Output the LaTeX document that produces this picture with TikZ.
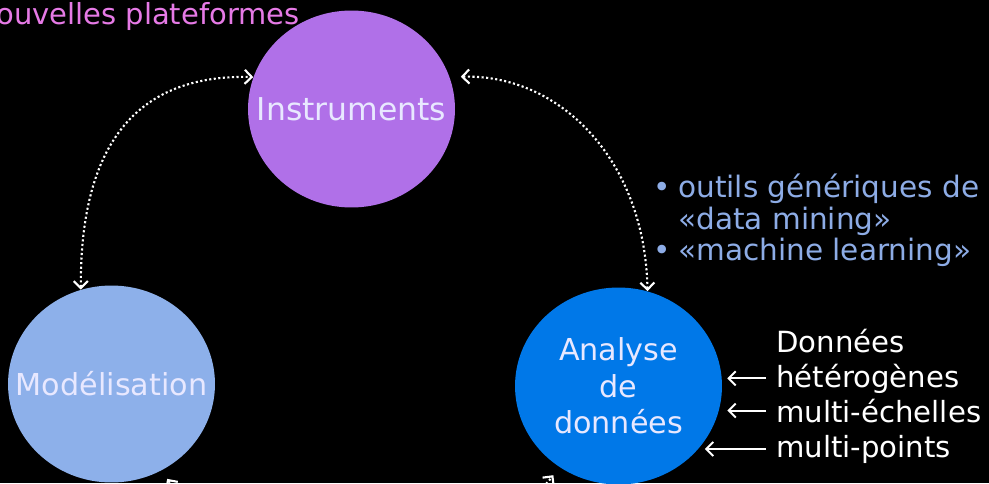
\documentclass[tikz,border=0pt]{standalone}
\usepackage{fontspec}
\setmainfont{DejaVu Sans}
\usetikzlibrary{arrows.meta,shapes.geometric}
\definecolor{instrpurple}{RGB}{176,112,232}
\definecolor{modblue}{RGB}{141,176,234}
\definecolor{anablue}{RGB}{0,120,232}
\definecolor{labelwhite}{RGB}{232,232,255}
\definecolor{notepink}{RGB}{230,122,230}
\definecolor{noteblue}{RGB}{141,172,230}

\begin{document}
\begin{tikzpicture}[x=0.02cm, y=-0.02cm,
		pole/.style={ellipse, minimum width=4.14cm, minimum height=3.94cm, inner sep=0pt},
		polelabel/.style={text=labelwhite, align=center, inner sep=0pt, font=\fontsize{17.2}{20.7}\selectfont},
		lien/.style={draw=white, line width=1.2pt, dash pattern=on 1.2pt off 1.4pt,
			{Straight Barb[length=4pt,width=8pt]}-{Straight Barb[length=4pt,width=8pt]}},
		flux/.style={draw=white, line width=1.1pt, shorten <=0.2cm, shorten >=0.1cm,
			-{Straight Barb[length=4pt,width=8pt]}},
		note/.style={anchor=base west, inner sep=0pt, font=\fontsize{16.8}{20}\selectfont}
	]
	
	\fill[black] (0,0) rectangle (989,483);
	\useasboundingbox (0,0) rectangle (989,483);
	
	% the three poles
	\node[pole, fill=instrpurple, label={[polelabel, font=\fontsize{17.9}{21}\selectfont]center:Instruments}] (instr) at (351.5,109) {};
	\node[pole, fill=modblue, label={[polelabel]center:Modélisation}] (model) at (111.5,384) {};
	\node[pole, fill=anablue, label={[polelabel]center:Analyse\\de\\données}] (analyse) at (618.5,386) {};
	
	\node[note, anchor=base east, text=notepink, font=\fontsize{16.5}{20}\selectfont] (plateformes) at (300,25) {ouvelles plateformes};
	
	\node[note, text=noteblue] (outils) at (653,197) {\makebox[0.5cm][l]{•}outils génériques de};
	\node[note, text=noteblue] (mining) at (678,229) {«data mining»};
	\node[note, text=noteblue] (learning) at (653,260) {\makebox[0.5cm][l]{•}«machine learning»};
	
	\node[note, text=white, font=\fontsize{16.6}{20}\selectfont] (donnees) at (776,352) {Données};
	\node[note, text=white, font=\fontsize{16.6}{20}\selectfont] (hetero) at (776,387) {hétérogènes};
	\node[note, text=white, font=\fontsize{16.6}{20}\selectfont] (echelles) at (776,422) {multi-échelles};
	\node[note, text=white, font=\fontsize{16.6}{20}\selectfont] (points) at (776,457) {multi-points};
	
	% dotted links between the poles
	\draw[lien] (model.108) .. controls (80,140) and (140,74) .. (instr.162);
	\draw[lien, shorten >=0.22cm] (analyse.73) .. controls (645,160) and (560,74) .. (instr.18);
	\draw[lien, shorten <=0.2cm, shorten >=0.2cm] (model.-60) .. controls (230,570) and (480,570) .. (analyse.-126);
	
	% incoming data
	\draw[flux] (hetero.west) -- (hetero.west -| analyse.east);
	\draw[flux] (echelles.west) -- (echelles.west -| analyse.east);
	\draw[flux] (points.west) -- (points.west -| analyse.-37);
\end{tikzpicture}
\end{document}
